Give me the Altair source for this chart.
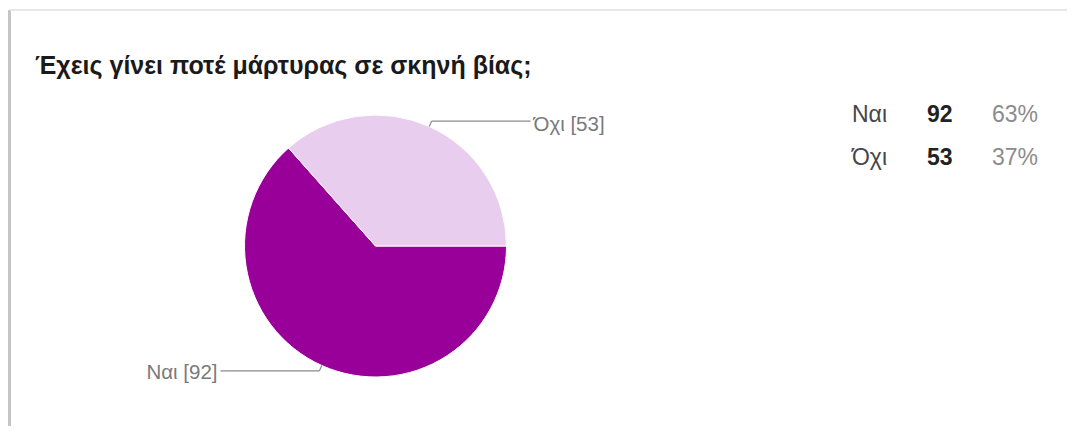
import math
import altair as alt
import pandas as pd

# ---- data ----
title_text = ["Έχεις γίνει ποτέ μάρτυρας σε σκηνή βίας;"]
answers = ["Ναι", "Όχι"]
counts = [92, 53]
percents = ["63%", "37%"]
colors = ["#990099", "#e9cdef"]

df = pd.DataFrame({"answer": answers, "count": counts, "pct": percents,
                   "order": list(range(len(answers)))})
title_df = pd.DataFrame({"t": title_text})

# ---- layout (chart coords; page = chart + 8) ----
W, H = 1059, 418
CX, CY, R = 367.5, 238, 131
FONT = "Liberation Sans"

base = alt.Chart(df)

pie = base.mark_arc(radius=R, stroke="white", strokeWidth=1).encode(
    theta=alt.Theta("count:Q", stack=True,
                    scale=alt.Scale(range=[math.pi / 2, math.pi / 2 + 2 * math.pi])),
    color=alt.Color("answer:N", scale=alt.Scale(domain=answers, range=colors), legend=None),
    order=alt.Order("order:Q"),
    x=alt.value(CX),
    y=alt.value(CY),
)

lab = base.transform_joinaggregate(total="sum(count)").transform_window(
    cum="sum(count)", sort=[alt.SortField("order")], frame=[None, 0]
).transform_calculate(
    mid="PI/2 + 2*PI*(datum.cum - datum.count/2)/datum.total",
    ex=f"{CX} + {R}*sin(datum.mid)",
    ey=f"{CY} - {R}*cos(datum.mid)",
    kx=f"{CX} + {R + 6}*sin(datum.mid)",
    ky=f"{CY} - {R + 6}*cos(datum.mid)",
    side="sin(datum.mid) >= 0 ? 1 : -1",
    hx=f"{CX} + 155*datum.side",
    tx=f"{CX} + 158*datum.side",
    label="datum.answer + ' [' + datum.count + ']'",
)

seg1 = lab.mark_rule(color="#8a8a8a", strokeWidth=1.2).encode(
    x=alt.X("ex:Q", scale=None), y=alt.Y("ey:Q", scale=None),
    x2="kx:Q", y2="ky:Q")
seg2 = lab.mark_rule(color="#8a8a8a", strokeWidth=1.2).encode(
    x=alt.X("kx:Q", scale=None), y=alt.Y("ky:Q", scale=None),
    x2="hx:Q", y2="ky:Q")
txt_r = lab.transform_filter("datum.side > 0").mark_text(
    font=FONT, fontSize=20.5, color="#7a7a7a", align="left", baseline="middle", dy=4
).encode(x=alt.X("tx:Q", scale=None), y=alt.Y("ky:Q", scale=None), text="label:N")
txt_l = lab.transform_filter("datum.side < 0").mark_text(
    font=FONT, fontSize=20.5, color="#7a7a7a", align="right", baseline="middle", dy=2
).encode(x=alt.X("tx:Q", scale=None), y=alt.Y("ky:Q", scale=None), text="label:N")

rows = alt.Y("answer:N", sort=answers, axis=None,
             scale=alt.Scale(type="point", range=[106.5, 150], padding=0))
leg_a = base.mark_text(font=FONT, fontSize=23, color="#474747", align="left",
                       baseline="middle").encode(x=alt.value(844), y=rows, text="answer:N")
leg_c = base.mark_text(font=FONT, fontSize=23, fontWeight="bold", color="#222222",
                       align="left", baseline="middle").encode(x=alt.value(919), y=rows, text="count:Q")
leg_p = base.mark_text(font=FONT, fontSize=23, color="#8c8c8c", align="left",
                       baseline="middle").encode(x=alt.value(984), y=rows, text="pct:N")

title = alt.Chart(title_df).mark_text(
    font=FONT, fontSize=25, fontWeight="bold", color="#1a1a1a", align="left", baseline="alphabetic"
).encode(x=alt.value(27), y=alt.value(66), text="t:N")

frame_l = alt.Chart(title_df).mark_rule(color="#c4c4c4", strokeWidth=3).encode(
    x=alt.value(1.5), y=alt.value(2), y2=alt.value(H))
frame_t = alt.Chart(title_df).mark_rule(color="#e6e6e6", strokeWidth=2).encode(
    x=alt.value(1.5), x2=alt.value(W), y=alt.value(2))

chart = alt.layer(frame_l, frame_t, pie, seg1, seg2, txt_r, txt_l, leg_a, leg_c, leg_p, title).properties(
    width=W, height=H, autosize=alt.AutoSizeParams(type="none"), padding=0
).configure_view(stroke=None).resolve_scale(color="independent", y="independent")

chart.save("out.html", embed_options={"renderer": "svg", "actions": False})
